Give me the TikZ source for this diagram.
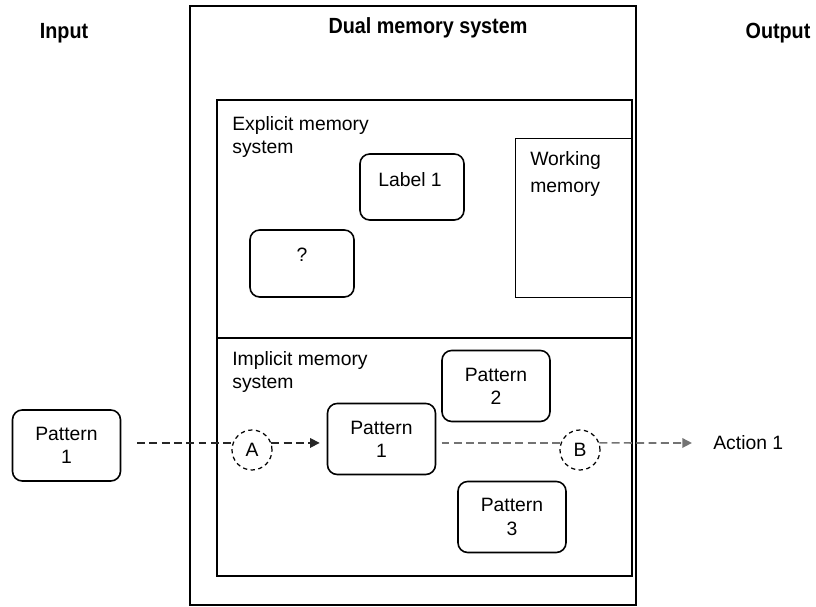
\documentclass[tikz,border=0pt]{standalone}
\usepackage{fontspec}
\setmainfont{Liberation Sans}
\newfontfamily\headfont[FakeStretch=0.9]{Liberation Sans}
\usetikzlibrary{positioning,arrows.meta}

\begin{document}
\begin{tikzpicture}[x=0.02cm, y=-0.02cm, >={Triangle[length=5.5pt,width=5.5pt]},
  font=\fontsize{11}{13.2}\selectfont,
  pat/.style={draw,line width=0.9pt,rounded corners=5.5pt,minimum width=2.16cm,minimum height=1.42cm,align=center},
  circ/.style={draw,circle,line width=0.7pt,dash pattern=on 2.4pt off 2pt,minimum size=0.8cm,inner sep=0pt},
  flow/.style={line width=0.9pt,dash pattern=on 4.5pt off 2.5pt},
  head/.style={font=\headfont\fontsize{12.5}{15}\selectfont\bfseries},
  txt/.style={anchor=north west,align=left,inner sep=0pt}]
  \useasboundingbox (0,0) rectangle (816,607);
  % frames
  \draw[line width=1.1pt] (190,6) rectangle (636,605);
  \draw[line width=1.1pt] (217,100) rectangle (632,576);
  \draw[line width=1.1pt] (217,338) -- (632,338);
  \draw[line width=0.5pt] (515,138) rectangle (632,297);
  % headings
  \node[head] (dual) at (428,28) {Dual memory system};
  \node[head] (inp) at (64,33) {Input};
  \node[head] (outp) at (778,33) {Output};
  \node[txt] (expl) at (232,116) {Explicit memory\\system};
  \node[txt] (impl) at (232,351) {Implicit memory\\system};
  \node[txt] (wm) at (530,151) {Working\\[2pt]memory};
  % explicit memory
  \node[pat,minimum width=2.08cm,minimum height=1.32cm] (lab) at (412,187) {};
  \node (labt) at (410,180) {Label 1};
  \node[pat,minimum width=2.08cm,minimum height=1.34cm] (unk) at (302,263.5) {};
  \node (unkt) at (302,255) {?};
  % implicit memory
  \node[pat] (in1) at (66.5,445.5) {Pattern\\1};
  \node[pat] (p1) at (381.5,439) {Pattern\\1};
  \node[pat] (p2) at (496,386) {Pattern\\2};
  \node[pat] (p3) at (512,517) {Pattern\\3};
  \node[circ] (A) at (252,450) {A};
  \node[circ] (B) at (580,450) {B};
  \node[anchor=west,inner sep=0pt] (act) at (713,443) {Action 1};
  % flow
  \draw[flow,black!85] ([xshift=9pt]in1.east |- A.160) -- (A.160);
  \draw[flow,black!85,->,shorten >=4pt] (A.20) -- (p1.west |- A.20);
  \draw[flow,black!55] ([xshift=3pt]p1.east |- B.160) -- (B.160);
  \draw[flow,black!55,->,shorten >=12pt] (B.20) -- (act.west);
\end{tikzpicture}
\end{document}
